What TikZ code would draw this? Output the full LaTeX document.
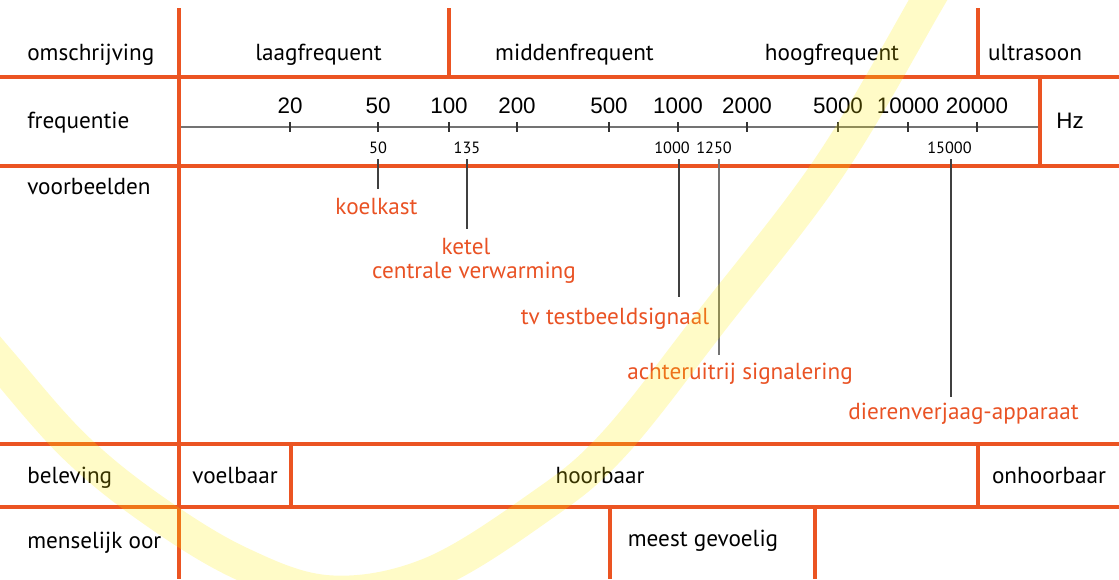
\documentclass[tikz,border=0pt]{standalone}
\usepackage{fontspec}
\setmainfont{PT Sans}
\newfontfamily\arialfont{Liberation Sans}
\definecolor{ored}{RGB}{235,84,34}
\definecolor{otext}{RGB}{233,82,36}
\definecolor{byel}{RGB}{255,236,0}
\tikzset{
  gridline/.style={draw=ored, line width=2.6pt},
  lbl/.style={font=\fontsize{17.4}{20}\selectfont, inner sep=0pt, anchor=base},
  lblw/.style={lbl, anchor=base west},
  olbl/.style={lbl, text=otext},
  num/.style={font=\arialfont\fontsize{16.8}{19}\selectfont, inner sep=0pt, anchor=base},
  snum/.style={font=\fontsize{12.2}{14}\selectfont, inner sep=0pt, anchor=base},
  axisline/.style={draw=black!55, line width=1.4pt},
  tickline/.style={draw=black!80, line width=1.4pt},
  leader/.style={draw=black!75, line width=0.9pt},
  band/.style={draw=byel, line width=25pt, opacity=0.22}
}
\begin{document}
\begin{tikzpicture}[x=0.75pt,y=-0.75pt]
\useasboundingbox (0,0) rectangle (1119,579);
% grid
\draw[gridline] (0,77) -- (1119,77);
\draw[gridline] (0,166) -- (1119,166);
\draw[gridline] (0,444) -- (1119,444);
\draw[gridline] (0,507) -- (1119,507);
\draw[gridline] (179,8) -- (179,579);
\draw[gridline] (449,8) -- (449,77);
\draw[gridline] (978,8) -- (978,77);
\draw[gridline] (1040,77) -- (1040,166);
\draw[gridline] (291,444) -- (291,507);
\draw[gridline] (978,444) -- (978,507);
\draw[gridline] (610,507) -- (610,579);
\draw[gridline] (815,507) -- (815,579);
% row labels
\node[lblw] (omschr) at (27,60) {omschrijving};
\node[lblw] (freq) at (27,128) {frequentie};
\node[lblw] (voorb) at (27,194) {voorbeelden};
\node[lblw] (belev) at (27,483) {beleving};
\node[lblw] (oor) at (27,548) {menselijk oor};
% row 1
\node[lbl] (laag) at (318.5,60) {laagfrequent};
\node[lbl] (midden) at (574.5,60) {middenfrequent};
\node[lbl] (hoog) at (832,60) {hoogfrequent};
\node[lbl] (ultra) at (1035,60) {ultrasoon};
% axis
\coordinate (axL) at (181,127);
\coordinate (axR) at (1038,127);
\draw[axisline] (axL) -- (axR);
\foreach \v/\x in {20/290,50/378,100/449,200/517,500/609,1000/678,2000/747,5000/838,10000/908,20000/977}{
  \node[num] (n\v) at (\x,113) {\v};
  \draw[tickline] (\x,122) -- (\x,132);
}
\node[num] (hz) at (1070,128) {Hz};
% small numbers
\node[snum] (s50) at (378,153) {50};
\node[snum] (s135) at (467,153) {135};
\node[snum] (s1000) at (672,153) {1000};
\node[snum] (s1250) at (714,153) {1250};
\node[snum] (s15000) at (949.5,153) {15000};
% leaders
\coordinate (a50) at (378,159);  \coordinate (b50) at (378,189);
\coordinate (a135) at (467,159); \coordinate (b135) at (467,229);
\coordinate (a1000) at (679,159); \coordinate (b1000) at (679,297);
\coordinate (a1250) at (719,159); \coordinate (b1250) at (719,355);
\coordinate (a15000) at (951,159); \coordinate (b15000) at (951,397);
\draw[leader] (a50) -- (b50);
\draw[leader] (a135) -- (b135);
\draw[leader] (a1000) -- (b1000);
\draw[leader, draw=black!55] (a1250) -- (b1250);
\draw[leader] (a15000) -- (b15000);
% examples
\node[olbl] (koel) at (376.5,214) {koelkast};
\node[olbl] (ketel) at (466,254) {ketel};
\node[olbl] (cv) at (474,278) {centrale verwarming};
\node[olbl] (tv) at (615,324) {tv testbeeldsignaal};
\node[olbl] (achter) at (740,379) {achteruitrij signalering};
\node[olbl] (dier) at (963.5,419) {dierenverjaag-apparaat};
% beleving
\node[lbl] (voel) at (235,483) {voelbaar};
\node[lbl] (hoor) at (600,483) {hoorbaar};
\node[lbl] (onhoor) at (1049,483) {onhoorbaar};
% oor
\node[lbl] (meest) at (703,546) {meest gevoelig};
% yellow band
\begin{scope}
\clip (0,0) rectangle (1119,579);
\draw[band] plot[smooth, tension=0.6] coordinates {(-20,338) (0,362) (73,445) (150,508) (240,563) (330,592) (430,574) (538,508) (613,445) (712,320) (830,166) (928,0) (945,-30)};
\end{scope}
\end{tikzpicture}
\end{document}
